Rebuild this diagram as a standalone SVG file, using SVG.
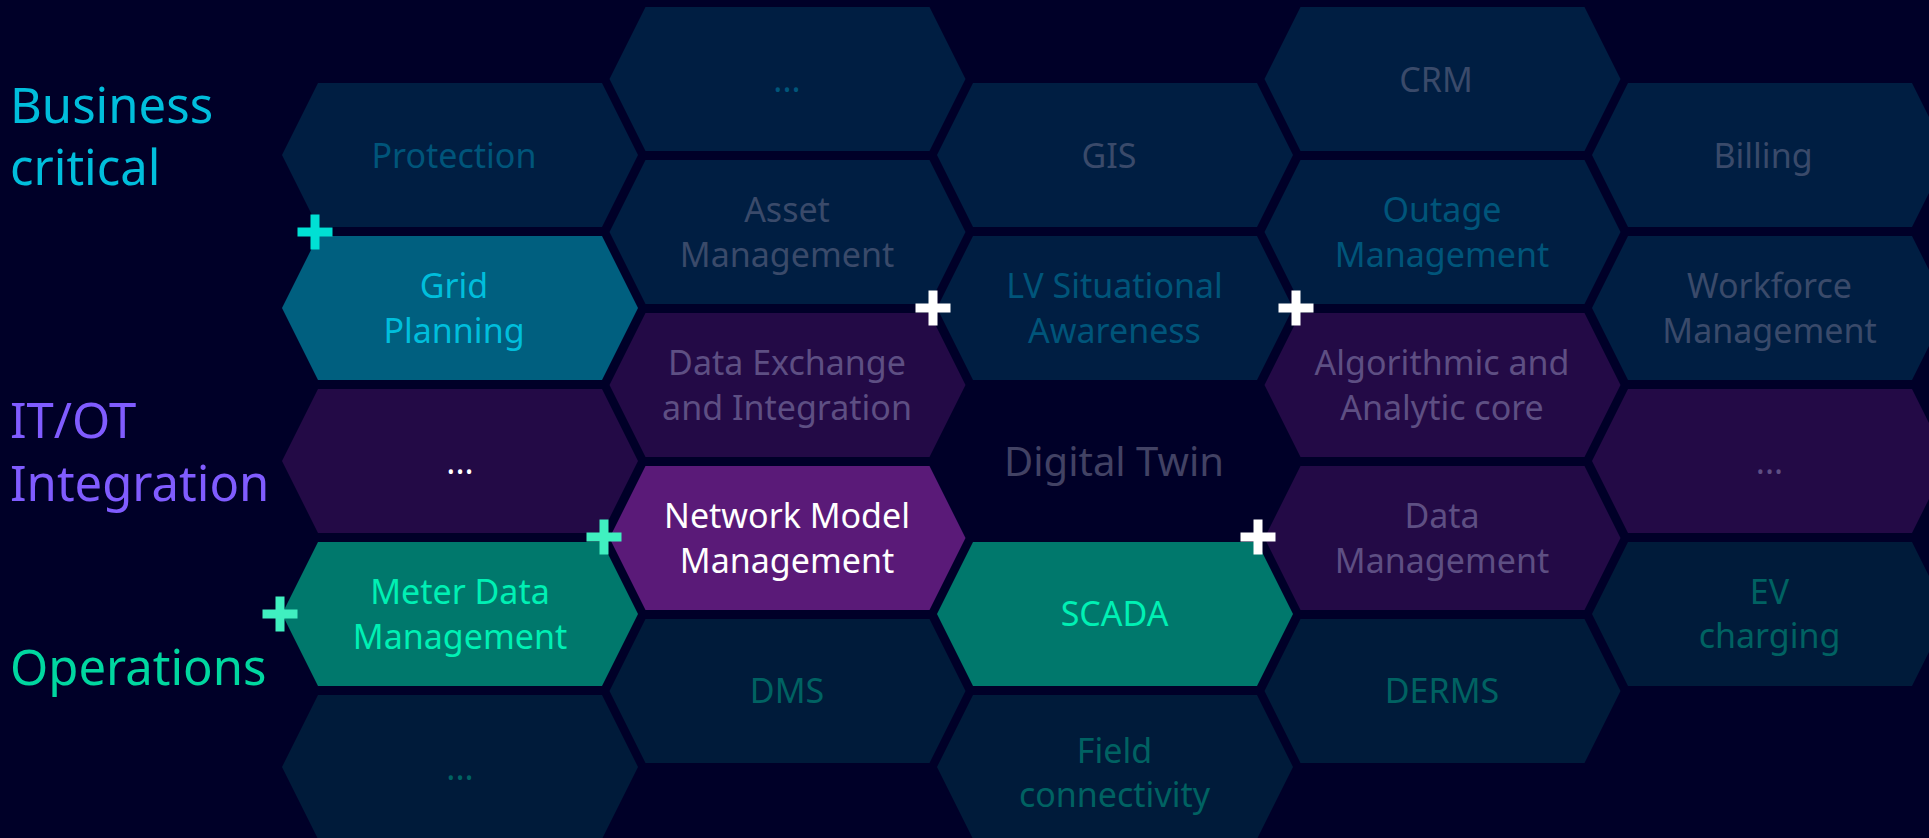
<svg xmlns="http://www.w3.org/2000/svg" width="1929" height="838" viewBox="0 0 1929 838">
<defs>
<style>
.t{font-family:"Noto Sans","Open Sans","DejaVu Sans",sans-serif;font-size:34px;text-anchor:middle}
.lbl{font-family:"Noto Sans","Open Sans","DejaVu Sans",sans-serif;font-size:49px}
.biz{fill:#001e42}.itot{fill:#230a46}.ops{fill:#001b3a}.grid{fill:#005f7f}.teal{fill:#00786c}.nmm{fill:#5a1a78}.dt{fill:#000028}
.tb{fill:#00557a}.tg{fill:#3a4a6a}.tp{fill:#5e4f83}.to{fill:#006262}.tw{fill:#ffffff}.tm{fill:#00f0b4}.tc{fill:#00bedc}
</style>
<path id="hex" d="M0,72 L36,0 L320,0 L356,72 L320,144 L36,144 Z"/>
<path id="plus" d="M-4.5,-17.5 h9 v13 h13 v9 h-13 v13 h-9 v-13 h-13 v-9 h13 Z"/>
</defs>
<rect width="1929" height="838" fill="#000028"/>
<g id="labels">
<text class="lbl" x="10" y="123" fill="#00bedc">Business</text>
<text class="lbl" x="10" y="185" fill="#00bedc">critical</text>
<text class="lbl" x="10" y="438" fill="#805cff">IT/OT</text>
<text class="lbl" x="10" y="501" fill="#805cff">Integration</text>
<text class="lbl" x="10" y="685" fill="#00d7a0">Operations</text>
</g>
<g id="connectors"></g>
<g id="protection"><use href="#hex" x="282" y="83" class="biz"/><text class="t tb" x="454" y="168">Protection</text></g>
<g id="grid-planning"><use href="#hex" x="282" y="236" class="grid"/><text class="t tc" x="454" y="298">Grid</text><text class="t tc" x="454" y="343">Planning</text></g>
<g id="itot-more"><use href="#hex" x="282" y="389" class="itot"/><text class="t tw" x="460" y="474">...</text></g>
<g id="meter-data"><use href="#hex" x="282" y="542" class="teal"/><text class="t tm" x="460" y="604">Meter Data</text><text class="t tm" x="460" y="649">Management</text></g>
<g id="ops-more"><use href="#hex" x="282" y="695" class="ops"/><text class="t to" x="460" y="780">...</text></g>

<g id="biz-more"><use href="#hex" x="609.5" y="7" class="biz"/><text class="t tb" x="787" y="92">...</text></g>
<g id="asset-management"><use href="#hex" x="609.5" y="160" class="biz"/><text class="t tg" x="787" y="222">Asset</text><text class="t tg" x="787" y="267">Management</text></g>
<g id="data-exchange"><use href="#hex" x="609.5" y="313" class="itot"/><text class="t tp" x="787" y="375">Data Exchange</text><text class="t tp" x="787" y="420">and Integration</text></g>
<g id="network-model"><use href="#hex" x="609.5" y="466" class="nmm"/><text class="t tw" x="787" y="528">Network Model</text><text class="t tw" x="787" y="573">Management</text></g>
<g id="dms"><use href="#hex" x="609.5" y="619" class="ops"/><text class="t to" x="787" y="703">DMS</text></g>

<g id="gis"><use href="#hex" x="937" y="83" class="biz"/><text class="t tg" x="1109" y="168">GIS</text></g>
<g id="lv-situational"><use href="#hex" x="937" y="236" class="biz"/><text class="t tb" x="1114.5" y="298">LV Situational</text><text class="t tb" x="1114.5" y="343">Awareness</text></g>
<g id="digital-twin"><use href="#hex" x="937" y="389" class="dt"/><text class="t" x="1114" y="476" style="font-size:40px;fill:#424264">Digital Twin</text></g>
<g id="scada"><use href="#hex" x="937" y="542" class="teal"/><text class="t tm" x="1114.5" y="626">SCADA</text></g>
<g id="field-connectivity"><use href="#hex" x="937" y="695" class="ops"/><text class="t to" x="1114.5" y="763">Field</text><text class="t to" x="1114.5" y="807">connectivity</text></g>

<g id="crm"><use href="#hex" x="1264.5" y="7" class="biz"/><text class="t tg" x="1436" y="92">CRM</text></g>
<g id="outage-management"><use href="#hex" x="1264.5" y="160" class="biz"/><text class="t tb" x="1442" y="222">Outage</text><text class="t tb" x="1442" y="267">Management</text></g>
<g id="algorithmic-core"><use href="#hex" x="1264.5" y="313" class="itot"/><text class="t tp" x="1442" y="375">Algorithmic and</text><text class="t tp" x="1442" y="420">Analytic core</text></g>
<g id="data-management"><use href="#hex" x="1264.5" y="466" class="itot"/><text class="t tp" x="1442" y="528">Data</text><text class="t tp" x="1442" y="573">Management</text></g>
<g id="derms"><use href="#hex" x="1264.5" y="619" class="ops"/><text class="t to" x="1442" y="703">DERMS</text></g>

<g id="billing"><use href="#hex" x="1592" y="83" class="biz"/><text class="t tg" x="1763" y="168">Billing</text></g>
<g id="workforce-management"><use href="#hex" x="1592" y="236" class="biz"/><text class="t tg" x="1769.5" y="298">Workforce</text><text class="t tg" x="1769.5" y="343">Management</text></g>
<g id="itot-more-right"><use href="#hex" x="1592" y="389" class="itot"/><text class="t tp" x="1769.5" y="474">...</text></g>
<g id="ev-charging"><use href="#hex" x="1592" y="542" class="ops"/><text class="t to" x="1769.5" y="604">EV</text><text class="t to" x="1769.5" y="648">charging</text></g>

<g id="plus-markers">
<use href="#plus" x="315" y="232" fill="#00e0d4"/>
<use href="#plus" x="933" y="308" fill="#ffffff"/>
<use href="#plus" x="1296" y="308" fill="#ffffff"/>
<use href="#plus" x="604" y="537" fill="#40f0c0"/>
<use href="#plus" x="280" y="614" fill="#40f0c0"/>
<use href="#plus" x="1258" y="537" fill="#ffffff"/>
</g>
</svg>
